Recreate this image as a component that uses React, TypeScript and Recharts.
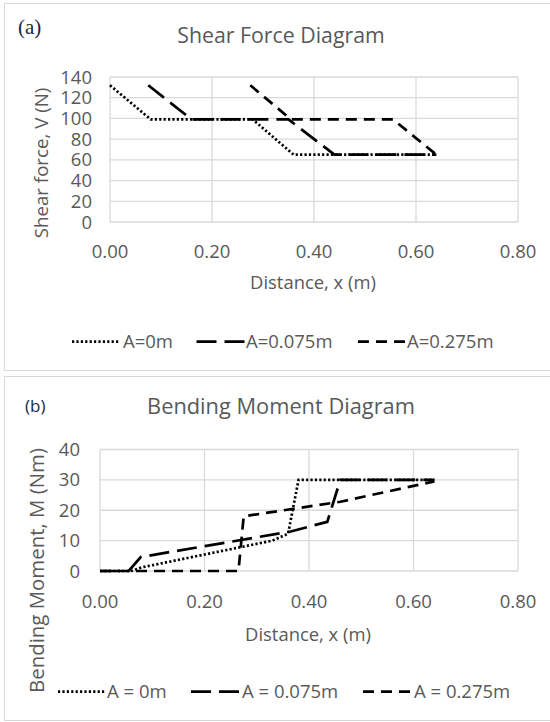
import React from 'react';
import { LineChart, Line, XAxis, YAxis, CartesianGrid } from 'recharts';

// axis ticks
const distTicks = [0, 0.2, 0.4, 0.6, 0.8];
const shearTicks = [0, 20, 40, 60, 80, 100, 120, 140];
const momentTicks = [0, 10, 20, 30, 40];

// (a) shear force V (N) against distance x (m)
const shearX0 = [0, 0.08, 0.28, 0.36, 0.64];
const shearV0 = [132, 99, 99, 65, 65];
const shearX075 = [0.075, 0.16, 0.35, 0.44, 0.64];
const shearV075 = [132, 99, 99, 65, 65];
const shearX275 = [0.275, 0.355, 0.555, 0.64];
const shearV275 = [132, 99, 99, 65];

// (b) bending moment M (Nm) against distance x (m)
const momentX0 = [0, 0.06, 0.08, 0.33, 0.36, 0.38, 0.64];
const momentM0 = [0, 0, 1.2, 10, 12.3, 30, 30];
const momentX075 = [0, 0.055, 0.078, 0.365, 0.435, 0.46, 0.64];
const momentM075 = [0, 0, 4.6, 13, 16.2, 30, 30];
const momentX275 = [0, 0.265, 0.275, 0.46, 0.64];
const momentM275 = [0, 0, 18, 22.8, 29.5];

const shearNames = ['A=0m', 'A=0.075m', 'A=0.275m'];
const momentNames = ['A = 0m', 'A = 0.075m', 'A = 0.275m'];

const zip = (xs: number[], ys: number[]) => xs.map((x, i) => ({ x, y: ys[i] }));

const shearSeries = [zip(shearX0, shearV0), zip(shearX075, shearV075), zip(shearX275, shearV275)];
const momentSeries = [zip(momentX0, momentM0), zip(momentX075, momentM075), zip(momentX275, momentM275)];

const dashes = ['2.2 2.2', '20 8', '11 7'];

const GREY = '#595959';
const GRID = '#d9d9d9';
const FONT = '"Open Sans", sans-serif';

const tickStyle = { fontSize: 18.5, fill: GREY };

const App: React.FC = () => {
  const renderLines = (series: { x: number; y: number }[][], names: string[]) =>
    series.map((data, i) => (
      <Line
        key={names[i]}
        data={data}
        dataKey="y"
        name={names[i]}
        type="linear"
        stroke="#000"
        strokeWidth={2.7}
        strokeDasharray={dashes[i]}
        dot={false}
        activeDot={false}
        isAnimationActive={false}
      />
    ));

  // legend swatch / text positions: [lineStart, lineEnd, textX]
  const legendA = [[72, 119, 123], [196.5, 245.5, 246], [358, 407, 407]];
  const legendB = [[58, 105, 107], [191, 239, 242], [363, 410.5, 414]];

  return (
    <div
      style={{
        position: 'absolute',
        left: 0,
        top: 0,
        width: 550,
        height: 722,
        overflow: 'hidden',
        background: '#fff',
        fontFamily: FONT,
      }}
    >
      {/* panel frames */}
      <div style={{ position: 'absolute', left: 4, top: 3, width: 600, height: 366, border: `1.5px solid ${GRID}` }} />
      <div style={{ position: 'absolute', left: 4, top: 375.5, width: 600, height: 343, border: `1.5px solid ${GRID}` }} />

      <div style={{ position: 'absolute', left: 0, top: 0 }}>
        <LineChart width={550} height={371} margin={{ top: 77, right: 32, bottom: 0, left: 0 }}>
          <CartesianGrid stroke={GRID} strokeWidth={1.3} />
          <XAxis
            type="number"
            dataKey="x"
            domain={[0, 0.8]}
            ticks={distTicks}
            interval={0}
            tickFormatter={(v: number) => v.toFixed(2)}
            height={149}
            tickLine={false}
            tickSize={0}
            tickMargin={23}
            axisLine={false}
            tick={tickStyle}
          />
          <YAxis
            type="number"
            domain={[0, 140]}
            ticks={shearTicks}
            interval={0}
            width={110}
            tickLine={false}
            tickSize={0}
            tickMargin={18}
            axisLine={false}
            tick={tickStyle}
          />
          {renderLines(shearSeries, shearNames)}
        </LineChart>
      </div>

      <div style={{ position: 'absolute', left: 0, top: 376 }}>
        <LineChart width={550} height={346} margin={{ top: 73.5, right: 32, bottom: 0, left: 0 }}>
          <CartesianGrid stroke={GRID} strokeWidth={1.3} />
          <XAxis
            type="number"
            dataKey="x"
            domain={[0, 0.8]}
            ticks={distTicks}
            interval={0}
            tickFormatter={(v: number) => v.toFixed(2)}
            height={151}
            tickLine={false}
            tickSize={0}
            tickMargin={24}
            axisLine={false}
            tick={tickStyle}
          />
          <YAxis
            type="number"
            domain={[0, 40]}
            ticks={momentTicks}
            interval={0}
            width={100}
            tickLine={false}
            tickSize={0}
            tickMargin={20}
            axisLine={false}
            tick={tickStyle}
          />
          {renderLines(momentSeries, momentNames)}
        </LineChart>
      </div>

      {/* titles, axis titles and legends */}
      <svg width={550} height={722} style={{ position: 'absolute', left: 0, top: 0, pointerEvents: 'none' }}>
        <text x={18} y={34} fontFamily='"Liberation Serif", serif' fontSize={21} fill="#1c2746">(a)</text>
        <text x={25} y={412} fontSize={17} fill="#1c2746">(b)</text>

        <text x={281} y={43} textAnchor="middle" fontSize={21.3} fill={GREY}>Shear Force Diagram</text>
        <text x={281} y={414} textAnchor="middle" fontSize={21.8} fill={GREY}>Bending Moment Diagram</text>

        <text x={313} y={289} textAnchor="middle" fontSize={18.4} fill={GREY}>Distance, x (m)</text>
        <text x={308} y={641} textAnchor="middle" fontSize={18.4} fill={GREY}>Distance, x (m)</text>

        <text x={47.5} y={163} textAnchor="middle" fontSize={18.7} fill={GREY} transform="rotate(-90 47.5 163)">
          Shear force, V (N)
        </text>
        <text x={44} y={570.5} textAnchor="middle" fontSize={20.4} fill={GREY} transform="rotate(-90 44 570.5)">
          Bending Moment, M (Nm)
        </text>

        {legendA.map(([x1, x2, tx], i) => (
          <g key={shearNames[i]}>
            <line x1={x1} x2={x2} y1={341.7} y2={341.7} stroke="#000" strokeWidth={2.7} strokeDasharray={dashes[i]} />
            <text x={tx} y={348.3} fontSize={18.5} fill={GREY}>{shearNames[i]}</text>
          </g>
        ))}
        {legendB.map(([x1, x2, tx], i) => (
          <g key={momentNames[i]}>
            <line x1={x1} x2={x2} y1={691.7} y2={691.7} stroke="#000" strokeWidth={2.7} strokeDasharray={dashes[i]} />
            <text x={tx} y={698} fontSize={18.5} fill={GREY}>{momentNames[i]}</text>
          </g>
        ))}
      </svg>
    </div>
  );
};

export default App;
